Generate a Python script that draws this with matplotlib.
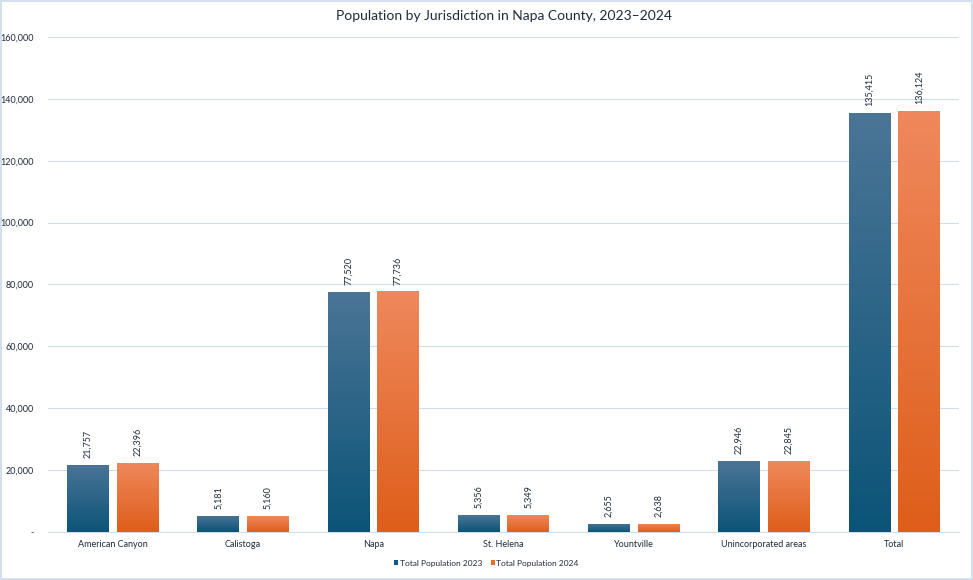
import numpy as np
import matplotlib.pyplot as plt
from matplotlib.colors import LinearSegmentedColormap
from matplotlib.ticker import FuncFormatter

categories = ["American Canyon", "Calistoga", "Napa", "St. Helena", "Yountville",
              "Unincorporated areas", "Total"]
pop_2023 = [21757, 5181, 77520, 5356, 2655, 22946, 135415]
pop_2024 = [22396, 5160, 77736, 5349, 2638, 22845, 136124]
series_names = ["Total Population 2023", "Total Population 2024"]

plt.rcParams['font.family'] = ['Lato', 'DejaVu Sans']

fig = plt.figure(figsize=(9.73, 5.8), dpi=100)
ax = fig.add_axes([0.049, 0.083, 0.937, 0.853])

x = np.arange(len(categories))
width = 0.32
gap = 0.06
cmaps = [
    LinearSegmentedColormap.from_list("b", ["#0b5478", "#4b7596"]),
    LinearSegmentedColormap.from_list("o", ["#de5e1a", "#ef885c"]),
]
solid = ["#0f5a7e", "#eb6e2f"]
grad = np.linspace(0, 1, 256).reshape(-1, 1)

for i, vals in enumerate([pop_2023, pop_2024]):
    offs = (i - 0.5) * (width + gap)
    bars = ax.bar(x + offs, vals, width, color=solid[i], label=series_names[i], zorder=2)
    for b, v in zip(bars, vals):
        bx, bw = b.get_x(), b.get_width()
        im = ax.imshow(grad, cmap=cmaps[i], aspect='auto', origin='lower',
                       extent=[bx, bx + bw, 0, v], zorder=3)
        im.set_clip_path(b)
        ax.annotate(f"{v:,}", (bx + bw / 2, v), xytext=(0, 5), textcoords='offset points',
                    rotation=90, ha='center', va='bottom', fontsize=6.5, color='#1f2a3a')

ax.set_xlim(-0.5, len(categories) - 0.5)
ax.set_ylim(0, 160000)
ax.set_yticks(np.arange(0, 160001, 20000))
ax.yaxis.set_major_formatter(FuncFormatter(lambda v, p: "-" if v == 0 else f"{int(v):,}"))
ax.set_xticks(x)
ax.set_xticklabels(categories)
ax.tick_params(axis='both', length=0, labelsize=6.5, colors='#1f2a3a')
ax.tick_params(axis='x', pad=6)
ax.tick_params(axis='y', pad=10)
ax.grid(axis='y', color='#cfdeee', linewidth=0.8, zorder=0)
for s in ['top', 'right', 'left']:
    ax.spines[s].set_visible(False)
ax.spines['bottom'].set_color('#cfdeee')

ax.set_title("Population by Jurisdiction in Napa County, 2023–2024", fontsize=10,
             color='#1f2a3a', pad=12)

leg = fig.legend(loc='lower center', bbox_to_anchor=(0.5, 0.01), ncol=2, frameon=False,
                 fontsize=6, handlelength=0.5, handleheight=0.5, handletextpad=0.2,
                 columnspacing=1.0)
for t in leg.get_texts():
    t.set_color('#1f2a3a')

fig.patches.append(plt.Rectangle((0.001, 0.002), 0.998, 0.996, transform=fig.transFigure,
                                 fill=False, edgecolor='#c9d9ee', linewidth=1.2))

fig.savefig("out.png", dpi=100)
